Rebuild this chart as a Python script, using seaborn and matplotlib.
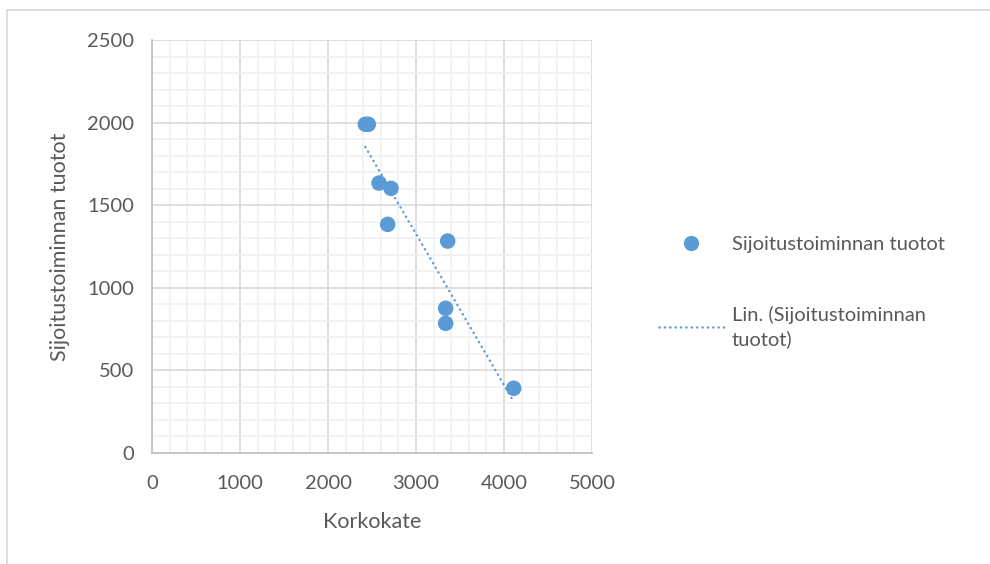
import numpy as np
import pandas as pd
import matplotlib
matplotlib.use("Agg")
import matplotlib.pyplot as plt
from matplotlib.lines import Line2D
from matplotlib.ticker import MultipleLocator
import seaborn as sns

# Data
korkokate = [2425, 2458, 2580, 2716, 2678, 3360, 3337, 3337, 4110]
tuotot = [1990, 1990, 1634, 1602, 1384, 1283, 876, 785, 392]
x_ticks = [0, 1000, 2000, 3000, 4000, 5000]
y_ticks = [0, 500, 1000, 1500, 2000, 2500]
series_name = "Sijoitustoiminnan tuotot"
trend_name = "Lin. (Sijoitustoiminnan\ntuotot)"
x_label = "Korkokate"
y_label = "Sijoitustoiminnan tuotot"

df = pd.DataFrame({"x": korkokate, "y": tuotot})

sns.set_theme(style="white")
plt.rcParams["font.family"] = ["Lato", "DejaVu Sans"]

W, H = 990, 564
fig = plt.figure(figsize=(W / 100, H / 100), dpi=100)
ax = fig.add_axes([152 / W, 1 - 453 / H, (592 - 152) / W, (453 - 40) / H])

blue = "#5B9BD5"
text_c = "#595959"
dot_style = (0, (0.05, 2.1))

sns.regplot(data=df, x="x", y="y", ax=ax, scatter=False, ci=None, truncate=True,
            line_kws=dict(color=blue, linestyle=dot_style, linewidth=1.8,
                          dash_capstyle="round", zorder=3))
sns.scatterplot(data=df, x="x", y="y", ax=ax, color=blue, s=125, edgecolor="none",
                zorder=4, legend=False)

ax.set_xlim(0, 5000)
ax.set_ylim(0, 2500)
ax.set_xticks(x_ticks)
ax.set_yticks(y_ticks)
ax.xaxis.set_minor_locator(MultipleLocator(200))
ax.yaxis.set_minor_locator(MultipleLocator(100))
ax.grid(which="major", color="#d9d9d9", linewidth=1.2, zorder=0)
ax.grid(which="minor", color="#f0f0f0", linewidth=1.2, zorder=0)
ax.set_axisbelow(True)

for s in ["top", "right"]:
    ax.spines[s].set_visible(False)
for s in ["left", "bottom"]:
    ax.spines[s].set_color("#bfbfbf")
    ax.spines[s].set_linewidth(1.2)

ax.tick_params(axis="both", which="major", direction="out", length=6, width=1.2,
               color="#bfbfbf", labelsize=14.5, labelcolor=text_c)
ax.tick_params(axis="x", which="major", pad=10)
ax.tick_params(axis="y", which="major", pad=7)
ax.tick_params(axis="both", which="minor", length=0)

ax.set_xlabel(x_label, fontsize=15.5, color=text_c, labelpad=14)
ax.set_ylabel(y_label, fontsize=15.5, color=text_c, labelpad=12)

handles = [
    Line2D([], [], marker="o", linestyle="none", markersize=11, color=blue,
           markeredgewidth=0),
    Line2D([], [], color=blue, linestyle=dot_style, linewidth=1.8,
           dash_capstyle="round"),
]
leg = fig.legend(handles, [series_name, trend_name], loc="upper left",
                 bbox_to_anchor=(641 / W, 1 - 218 / H), frameon=False,
                 fontsize=14.5, labelcolor=text_c, handlelength=3.2,
                 handletextpad=0.4, labelspacing=2.6)
leg.get_texts()[1].set_linespacing(1.45)

# chart border
fig.add_artist(Line2D([7 / W, 7 / W], [0, 1 - 10 / H], color="#d9d9d9", linewidth=1.2,
                      transform=fig.transFigure))
fig.add_artist(Line2D([7 / W, 1], [1 - 10 / H, 1 - 10 / H], color="#d9d9d9",
                      linewidth=1.2, transform=fig.transFigure))

fig.savefig("out.png", dpi=100)
